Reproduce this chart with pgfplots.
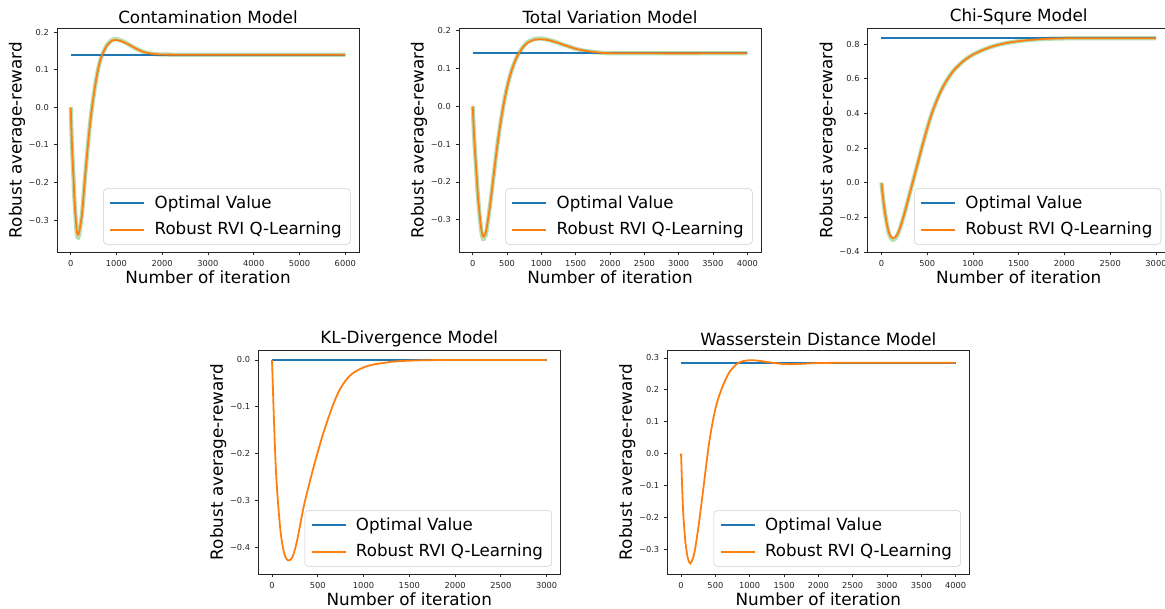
\documentclass[border=0pt]{standalone}
\usepackage{pgfplots}
\pgfplotsset{compat=1.18}
\usepackage{fontspec}
\setmainfont{DejaVu Sans}
\definecolor{tabblue}{HTML}{1F77B4}
\definecolor{taborange}{HTML}{FF7F0E}
\definecolor{tabgreen}{HTML}{2CA02C}
\pgfplotsset{
  legend image code/.code={\draw[#1] (0pt,0pt) -- (25.5pt,0pt);},
  every axis title shift=0pt,
  myax/.style={
    scale only axis, width=226.5pt, height=168pt,
    axis line style={black!85, line width=0.6pt},
    tick align=outside, major tick length=2.6pt,
    tick style={black!85, line width=0.6pt},
    xtick pos=bottom, ytick pos=left,
    ticklabel style={font=\fontsize{6.2}{7.5}\selectfont, color=black!85},
    /pgf/number format/assume math mode=true,
    /pgf/number format/1000 sep={},
    title style={font=\fontsize{12.6}{15}\selectfont, at={(axis description cs:0.5,1.049)}, anchor=center},
    xlabel style={font=\fontsize{12.6}{15}\selectfont, at={(axis description cs:0.5,-0.112)}, anchor=center},
    ylabel style={font=\fontsize{12.6}{15}\selectfont, at={(axis description cs:-0.1325,0.5)}, anchor=center},
    xlabel={Number of iteration}, ylabel={Robust average-reward},
    legend cell align=left,
    legend style={font=\fontsize{12.5}{15}\selectfont, at={(axis description cs:0.972,0.033)}, anchor=south east,
      draw=black!20, rounded corners=2.5pt, fill=white, fill opacity=0.8, text opacity=1,
      inner xsep=4.5pt, inner ysep=3.5pt, row sep=4.75pt,
      /tikz/every odd column/.append style={column sep=5pt}},
  },
  optline/.style={draw=tabblue, color=tabblue, line width=1.35pt},
  rviline/.style={draw=taborange, color=taborange, line width=1.35pt, smooth},
  band/.style={draw=tabgreen, line width=3.2pt, draw opacity=0.35, smooth, forget plot},
}
\begin{document}
\begin{tikzpicture}
\useasboundingbox (0,0) rectangle (873.75pt,456.75pt);
% ---------------- Contamination
\begin{axis}[myax, at={(42.75pt,267.75pt)}, anchor=south west,
  title={Contamination Model},
  xmin=-300, xmax=6300, ymin=-0.385, ymax=0.211,
  xtick={0,1000,2000,3000,4000,5000,6000},
  ytick={-0.3,-0.2,-0.1,0,0.1,0.2},
  yticklabels={−0.3,−0.2,−0.1,0.0,0.1,0.2}]
\addplot[band] coordinates {(0,0)(15,-0.06)(30,-0.11)(45,-0.15)(60,-0.185)(80,-0.24)(100,-0.281)(125,-0.325)(150,-0.346)(175,-0.343)(200,-0.326)(250,-0.28)(300,-0.205)(350,-0.135)(400,-0.07)(450,-0.015)(500,0.03)(550,0.07)(600,0.102)(650,0.127)(700,0.143)(750,0.156)(800,0.167)(850,0.174)(900,0.179)(950,0.181)(1000,0.181)(1100,0.178)(1200,0.172)(1300,0.165)(1400,0.158)(1500,0.152)(1600,0.147)(1700,0.144)(1800,0.142)(1900,0.141)(2000,0.1405)(2500,0.14)(6000,0.14)};
\addplot[optline] coordinates {(0,0.14)(6000,0.14)};
\addlegendentry{Optimal Value}
\addplot[rviline] coordinates {(0,0)(15,-0.06)(30,-0.11)(45,-0.15)(60,-0.185)(80,-0.24)(100,-0.28)(125,-0.32)(150,-0.339)(175,-0.336)(200,-0.322)(250,-0.28)(300,-0.205)(350,-0.135)(400,-0.07)(450,-0.015)(500,0.03)(550,0.07)(600,0.102)(650,0.127)(700,0.143)(750,0.156)(800,0.166)(850,0.172)(900,0.177)(950,0.179)(1000,0.179)(1100,0.176)(1200,0.171)(1300,0.165)(1400,0.158)(1500,0.152)(1600,0.147)(1700,0.144)(1800,0.142)(1900,0.141)(2000,0.1405)(2500,0.14)(6000,0.14)};
\addlegendentry{Robust RVI Q-Learning}
\end{axis}
% ---------------- Total Variation
\begin{axis}[myax, at={(344.25pt,267.75pt)}, anchor=south west,
  title={Total Variation Model},
  xmin=-200, xmax=4200, ymin=-0.385, ymax=0.207,
  xtick={0,500,1000,1500,2000,2500,3000,3500,4000},
  ytick={-0.3,-0.2,-0.1,0,0.1,0.2},
  yticklabels={−0.3,−0.2,−0.1,0.0,0.1,0.2}]
\addplot[band] coordinates {(0,0)(15,-0.06)(30,-0.11)(50,-0.165)(75,-0.235)(100,-0.288)(125,-0.33)(150,-0.35)(175,-0.346)(200,-0.33)(250,-0.265)(300,-0.19)(350,-0.115)(400,-0.05)(450,0.005)(500,0.05)(550,0.085)(600,0.112)(650,0.133)(700,0.148)(750,0.161)(800,0.17)(900,0.178)(1000,0.179)(1100,0.176)(1200,0.171)(1300,0.164)(1400,0.158)(1500,0.152)(1600,0.148)(1700,0.145)(1800,0.143)(1900,0.141)(2000,0.1405)(2500,0.14)(4000,0.14)};
\addplot[optline] coordinates {(0,0.14)(4000,0.14)};
\addlegendentry{Optimal Value}
\addplot[rviline] coordinates {(0,0)(15,-0.06)(30,-0.11)(50,-0.165)(75,-0.235)(100,-0.285)(125,-0.325)(150,-0.344)(175,-0.34)(200,-0.325)(250,-0.265)(300,-0.19)(350,-0.115)(400,-0.05)(450,0.005)(500,0.05)(550,0.085)(600,0.112)(650,0.133)(700,0.148)(750,0.16)(800,0.168)(900,0.176)(1000,0.177)(1100,0.175)(1200,0.17)(1300,0.164)(1400,0.158)(1500,0.152)(1600,0.148)(1700,0.145)(1800,0.143)(1900,0.141)(2000,0.1405)(2500,0.14)(4000,0.14)};
\addlegendentry{Robust RVI Q-Learning}
\end{axis}
% ---------------- Chi-Square
\begin{axis}[myax, at={(650.8pt,267.75pt)}, anchor=south west,
  title={Chi-Squre Model},
  xmin=-150, xmax=3150, ymin=-0.4, ymax=0.894,
  xtick={0,500,1000,1500,2000,2500,3000},
  ytick={-0.4,-0.2,0,0.2,0.4,0.6,0.8},
  yticklabels={−0.4,−0.2,0.0,0.2,0.4,0.6,0.8}]
\addplot[band] coordinates {(0,0)(20,-0.1)(40,-0.18)(60,-0.24)(80,-0.29)(100,-0.318)(125,-0.33)(150,-0.323)(175,-0.3)(200,-0.268)(250,-0.18)(300,-0.08)(350,0.02)(400,0.12)(450,0.22)(500,0.315)(550,0.40)(600,0.47)(650,0.53)(700,0.58)(750,0.62)(800,0.655)(900,0.705)(1000,0.74)(1100,0.765)(1200,0.785)(1300,0.8)(1400,0.81)(1500,0.818)(1600,0.824)(1700,0.828)(1800,0.831)(1900,0.833)(2000,0.834)(2200,0.835)(3000,0.835)};
\addplot[optline] coordinates {(0,0.835)(3000,0.835)};
\addlegendentry{Optimal Value}
\addplot[rviline] coordinates {(0,0)(20,-0.1)(40,-0.18)(60,-0.24)(80,-0.285)(100,-0.31)(125,-0.32)(150,-0.315)(175,-0.295)(200,-0.265)(250,-0.18)(300,-0.08)(350,0.02)(400,0.12)(450,0.22)(500,0.315)(550,0.40)(600,0.47)(650,0.53)(700,0.58)(750,0.62)(800,0.655)(900,0.705)(1000,0.74)(1100,0.765)(1200,0.785)(1300,0.8)(1400,0.81)(1500,0.818)(1600,0.824)(1700,0.828)(1800,0.831)(1900,0.833)(2000,0.834)(2200,0.835)(3000,0.835)};
\addlegendentry{Robust RVI Q-Learning}
\end{axis}
% ---------------- KL
\begin{axis}[myax, at={(193.7pt,26.25pt)}, anchor=south west,
  title={KL-Divergence Model},
  xmin=-150, xmax=3150, ymin=-0.457, ymax=0.0213,
  xtick={0,500,1000,1500,2000,2500,3000},
  ytick={-0.4,-0.3,-0.2,-0.1,0},
  yticklabels={−0.4,−0.3,−0.2,−0.1,0.0}]
\addplot[optline] coordinates {(0,0)(3000,0)};
\addlegendentry{Optimal Value}
\addplot[rviline] coordinates {(0,0)(10,-0.06)(20,-0.12)(35,-0.2)(50,-0.26)(70,-0.315)(90,-0.36)(110,-0.39)(130,-0.41)(150,-0.422)(175,-0.428)(200,-0.427)(225,-0.42)(250,-0.405)(275,-0.385)(300,-0.36)(350,-0.31)(400,-0.27)(450,-0.232)(500,-0.197)(550,-0.163)(600,-0.133)(650,-0.105)(700,-0.08)(750,-0.06)(800,-0.045)(850,-0.034)(900,-0.026)(1000,-0.016)(1100,-0.01)(1200,-0.007)(1300,-0.004)(1400,-0.0025)(1500,-0.0015)(1700,-0.0005)(2000,0)(3000,0)};
\addlegendentry{Robust RVI Q-Learning}
\end{axis}
% ---------------- Wasserstein
\begin{axis}[myax, at={(500.5pt,26.25pt)}, anchor=south west,
  title={Wasserstein Distance Model},
  xmin=-200, xmax=4200, ymin=-0.378, ymax=0.325,
  xtick={0,500,1000,1500,2000,2500,3000,3500,4000},
  ytick={-0.3,-0.2,-0.1,0,0.1,0.2,0.3},
  yticklabels={−0.3,−0.2,−0.1,0.0,0.1,0.2,0.3}]
\addplot[optline] coordinates {(0,0.284)(4000,0.284)};
\addlegendentry{Optimal Value}
\addplot[rviline] coordinates {(0,0)(15,-0.1)(30,-0.18)(50,-0.245)(70,-0.29)(100,-0.33)(135,-0.345)(170,-0.33)(200,-0.305)(250,-0.235)(300,-0.152)(350,-0.065)(400,0.02)(450,0.087)(500,0.14)(550,0.178)(600,0.208)(650,0.233)(700,0.254)(750,0.268)(800,0.279)(850,0.286)(900,0.29)(1000,0.293)(1100,0.292)(1200,0.289)(1300,0.286)(1400,0.283)(1500,0.281)(1600,0.2805)(1700,0.281)(1800,0.282)(2000,0.284)(2500,0.285)(4000,0.285)};
\addlegendentry{Robust RVI Q-Learning}
\end{axis}
\end{tikzpicture}
\end{document}
